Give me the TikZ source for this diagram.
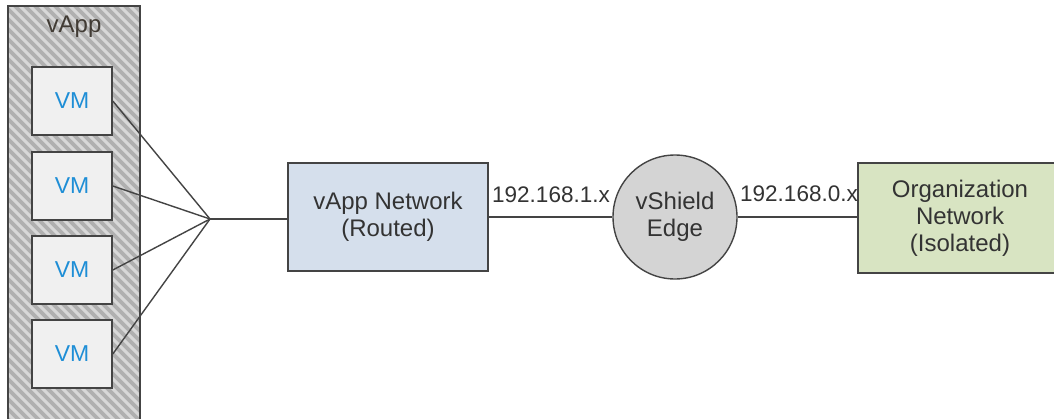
\documentclass[tikz,border=0pt]{standalone}
\usepackage{fontspec}
\setmainfont{Liberation Sans}
\definecolor{edgegray}{HTML}{444444}
\definecolor{txt}{HTML}{333333}
\definecolor{hatchbg}{HTML}{B0B0B0}
\definecolor{hatchfg}{HTML}{D8D8D8}
\definecolor{vmfill}{HTML}{F0F0F0}
\definecolor{vmblue}{HTML}{1E8ED6}
\definecolor{netblue}{HTML}{D5DFEC}
\definecolor{orggreen}{HTML}{D8E4C2}
\definecolor{edgefill}{HTML}{D4D4D4}
\tikzset{
  boxtext/.style={font=\fontsize{24}{27}\selectfont, text=txt, align=center},
  vmbox/.style={draw=edgegray, line width=1.6pt, fill=vmfill, minimum width=80pt, minimum height=68pt, inner sep=0pt, font=\fontsize{23}{27}\selectfont, text=vmblue},
  netbox/.style={draw=edgegray, line width=1.4pt, inner sep=0pt, boxtext},
  iplabel/.style={font=\fontsize{22.5}{27}\selectfont, text=txt, inner sep=0pt},
  wire/.style={draw=edgegray, line width=1.4pt},
}
\begin{document}
\begin{tikzpicture}[x=1pt, y=-1pt]
\useasboundingbox (0,0) rectangle (1054,418);
\clip (0,0) rectangle (1054,418);
\fill[white] (0,0) rectangle (1054,418);
% container
\node[fill=hatchbg, minimum width=132pt, minimum height=424pt, inner sep=0pt] (vapp) at (74,218) {};
\begin{scope}
  \clip (8,6) rectangle (140,430);
  \foreach \i in {-46,...,16} \draw[hatchfg, line width=3pt] (\i*10,6) -- ++(440,440);
\end{scope}
\draw[edgegray, line width=1.6pt] (vapp.north west) rectangle (vapp.south east);
\node[boxtext, text=txt!90!brown] (vapplabel) at (74,27) {vApp};
% VMs
\node[vmbox] (vm1) at (72,101) {VM};
\node[vmbox] (vm2) at (72,186) {VM};
\node[vmbox] (vm3) at (72,270) {VM};
\node[vmbox] (vm4) at (72,354) {VM};
\coordinate (j) at (210,219);
% networks
\node[netbox, fill=netblue, minimum width=200pt, minimum height=108pt] (vnet) at (388,217) {vApp Network\\(Routed)};
\node[netbox, circle, fill=edgefill, minimum size=124pt] (vse) at (675,217) {vShield\\Edge};
\node[netbox, fill=orggreen, minimum width=204pt, minimum height=110pt] (org) at (960,218) {Organization\\Network\\(Isolated)};
% wires
\foreach \v in {vm1,vm2,vm3,vm4} \draw[wire] (\v.east) -- (j);
\draw[wire] (j) -- (vnet.west |- j);
\draw[wire] (vnet.east) -- (vse.west);
\draw[wire] (vse.east) -- (org.west |- vse.east);
% ip labels
\node[iplabel] (ip1) at (551,195) {192.168.1.x};
\node[iplabel] (ip0) at (799,194) {192.168.0.x};
\end{tikzpicture}
\end{document}
